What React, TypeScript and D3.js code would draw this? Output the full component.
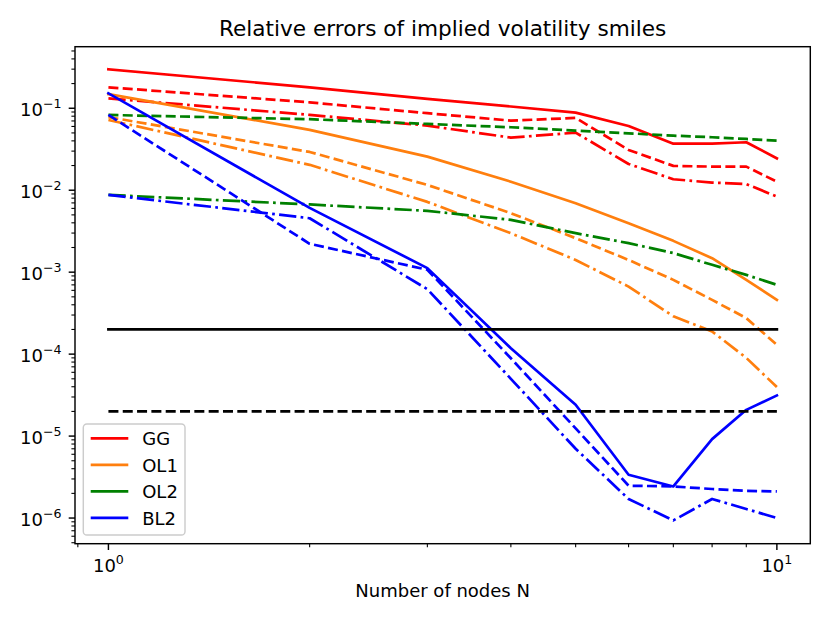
import React from "react";
import * as d3 from "d3";

const nodes = [1, 2, 3, 4, 5, 6, 7, 8, 9, 10];

const ggSolid = [0.299, 0.18, 0.13, 0.105, 0.0883, 0.0608, 0.037, 0.037, 0.0385, 0.0245];
const ggDash = [0.18, 0.118, 0.087, 0.0706, 0.0762, 0.031, 0.0198, 0.0194, 0.0194, 0.0127];
const ggDashDot = [0.132, 0.083, 0.0614, 0.0438, 0.0504, 0.0209, 0.0136, 0.0124, 0.0119, 0.00836];

const ol1Solid = [0.149, 0.0545, 0.0257, 0.0127, 0.00694, 0.00396, 0.00241, 0.00148, 0.000805, 0.000459];
const ol1Dash = [0.078, 0.0293, 0.0116, 0.00525, 0.0026, 0.00141, 0.000805, 0.000459, 0.000275, 0.00013];
const ol1DashDot = [0.072, 0.0204, 0.0072, 0.00299, 0.00141, 0.000667, 0.000289, 0.000189, 0.00009, 0.0000396];

const ol2Dash = [0.0828, 0.0735, 0.0644, 0.0586, 0.0533, 0.0495, 0.0463, 0.0443, 0.0422, 0.0403];
const ol2DashDot = [0.00877, 0.0067, 0.0056, 0.00435, 0.00299, 0.00226, 0.00171, 0.00123, 0.000927, 0.0007];

const bl2Solid = [0.152, 0.00608, 0.00112, 0.000118, 0.0000241, 0.00000337, 0.00000243, 0.00000918, 0.0000209, 0.0000313];
const bl2Dash = [0.0828, 0.00222, 0.00107, 0.000089, 0.0000124, 0.00000248, 0.00000243, 0.00000226, 0.00000215, 0.00000211];
const bl2DashDot = [0.00877, 0.00455, 0.00062, 0.00005, 0.000007, 0.00000171, 0.000000935, 0.00000171, 0.00000129, 0.000001];

const thresholdSolid = 2e-4;
const thresholdDash = 2e-5;

const legendLabels = ["GG", "OL1", "OL2", "BL2"];
const legendColors = ["#ff0000", "#ff7f0e", "#008000", "#0000ff"];

const yMajorExps = [-6, -5, -4, -3, -2, -1];
const xMajorExps = [0, 1];

const W = 830;
const H = 623;
const left = 75;
const right = 810.3;
const top = 46.7;
const bottom = 543.7;

const DASH = "10,4.32";
const DASHDOT = "17.3,4.32,2.7,4.32";

export default function App() {
  const x = d3.scaleLog().domain([Math.pow(10, -0.05), Math.pow(10, 1.05)]).range([left, right]);
  const y = d3.scaleLog().domain([Math.pow(10, -6.313), Math.pow(10, -0.249)]).range([bottom, top]);
  const line = d3
    .line<number>()
    .x((_, i) => x(nodes[i]))
    .y((d) => y(d));

  const series: { data: number[]; color: string; dash?: string }[] = [
    { data: ggSolid, color: legendColors[0] },
    { data: ggDash, color: legendColors[0], dash: DASH },
    { data: ggDashDot, color: legendColors[0], dash: DASHDOT },
    { data: ol1Solid, color: legendColors[1] },
    { data: ol1Dash, color: legendColors[1], dash: DASH },
    { data: ol1DashDot, color: legendColors[1], dash: DASHDOT },
    { data: ol2Dash, color: legendColors[2], dash: DASH },
    { data: ol2DashDot, color: legendColors[2], dash: DASHDOT },
    { data: bl2Solid, color: legendColors[3] },
    { data: bl2Dash, color: legendColors[3], dash: DASH },
    { data: bl2DashDot, color: legendColors[3], dash: DASHDOT },
  ];

  const [yLo, yHi] = y.domain();
  const yMinor: number[] = [];
  for (let e = -7; e <= 0; e++) {
    for (let k = 2; k <= 9; k++) {
      const v = k * Math.pow(10, e);
      if (v >= yLo && v <= yHi) yMinor.push(v);
    }
  }
  const [xLo, xHi] = x.domain();
  const xMinor: number[] = [];
  for (let e = -1; e <= 1; e++) {
    for (let k = 2; k <= 9; k++) {
      const v = k * Math.pow(10, e);
      if (v >= xLo && v <= xHi) xMinor.push(v);
    }
  }

  const font = "'DejaVu Sans', sans-serif";

  return (
    <svg width={W} height={H} style={{ display: "block", margin: 0, position: "absolute", left: 0, top: 0 }} fontFamily={font}>
      <rect x={0} y={0} width={W} height={H} fill="#ffffff" />
      <defs>
        <clipPath id="plotclip">
          <rect x={left} y={top} width={right - left} height={bottom - top} />
        </clipPath>
      </defs>
      <g clipPath="url(#plotclip)">
        {series.map((s, i) => (
          <path
            key={i}
            d={line(s.data) || ""}
            fill="none"
            stroke={s.color}
            strokeWidth={2.7}
            strokeDasharray={s.dash}
            strokeLinejoin="round"
            strokeLinecap={s.dash ? "butt" : "square"}
          />
        ))}
        <line x1={x(nodes[0])} x2={x(nodes[nodes.length - 1])} y1={y(thresholdSolid)} y2={y(thresholdSolid)} stroke="#000" strokeWidth={2.7} strokeLinecap="square" />
        <line x1={x(nodes[0])} x2={x(nodes[nodes.length - 1])} y1={y(thresholdDash)} y2={y(thresholdDash)} stroke="#000" strokeWidth={2.7} strokeDasharray={DASH} />
      </g>
      {/* spines */}
      <rect x={left} y={top} width={right - left} height={bottom - top} fill="none" stroke="#000" strokeWidth={1.44} />
      {/* y ticks */}
      {yMajorExps.map((e) => {
        const yy = y(Math.pow(10, e));
        return (
          <g key={"ym" + e}>
            <line x1={left - 6.3} x2={left} y1={yy} y2={yy} stroke="#000" strokeWidth={1.44} />
            <text x={left - 13.5} y={yy + 7.7} textAnchor="end" fontSize={18} fill="#000">
              10
              <tspan dy={-8} fontSize={12.6}>{"\u2212" + Math.abs(e)}</tspan>
            </text>
          </g>
        );
      })}
      {yMinor.map((v, i) => (
        <line key={"yn" + i} x1={left - 3.6} x2={left} y1={y(v)} y2={y(v)} stroke="#000" strokeWidth={1.08} />
      ))}
      {/* x ticks */}
      {xMajorExps.map((e) => {
        const xx = x(Math.pow(10, e));
        return (
          <g key={"xm" + e}>
            <line x1={xx} x2={xx} y1={bottom} y2={bottom + 6.3} stroke="#000" strokeWidth={1.44} />
            <text x={xx} y={571.7} textAnchor="middle" fontSize={18} fill="#000">
              10
              <tspan dy={-8} fontSize={12.6}>{String(e)}</tspan>
            </text>
          </g>
        );
      })}
      {xMinor.map((v, i) => (
        <line key={"xn" + i} x1={x(v)} x2={x(v)} y1={bottom} y2={bottom + 3.6} stroke="#000" strokeWidth={1.08} />
      ))}
      {/* labels */}
      <text x={(left + right) / 2} y={596.5} textAnchor="middle" fontSize={18} fill="#000">
        Number of nodes N
      </text>
      <text x={(left + right) / 2} y={36} textAnchor="middle" fontSize={21.6} fill="#000">
        Relative errors of implied volatility smiles
      </text>
      {/* legend */}
      <g>
        <rect x={83.3} y={424} width={101.7} height={111} rx={3.6} ry={3.6} fill="#ffffff" fillOpacity={0.8} stroke="#cccccc" strokeWidth={1.44} />
        {legendLabels.map((lab, i) => {
          const ly = 438.3 + i * 26.5;
          return (
            <g key={lab}>
              <line x1={90.7} x2={128.3} y1={ly} y2={ly} stroke={legendColors[i]} strokeWidth={2.7} />
              <text x={142.2} y={ly + 7} fontSize={18} fill="#000">
                {lab}
              </text>
            </g>
          );
        })}
      </g>
    </svg>
  );
}
